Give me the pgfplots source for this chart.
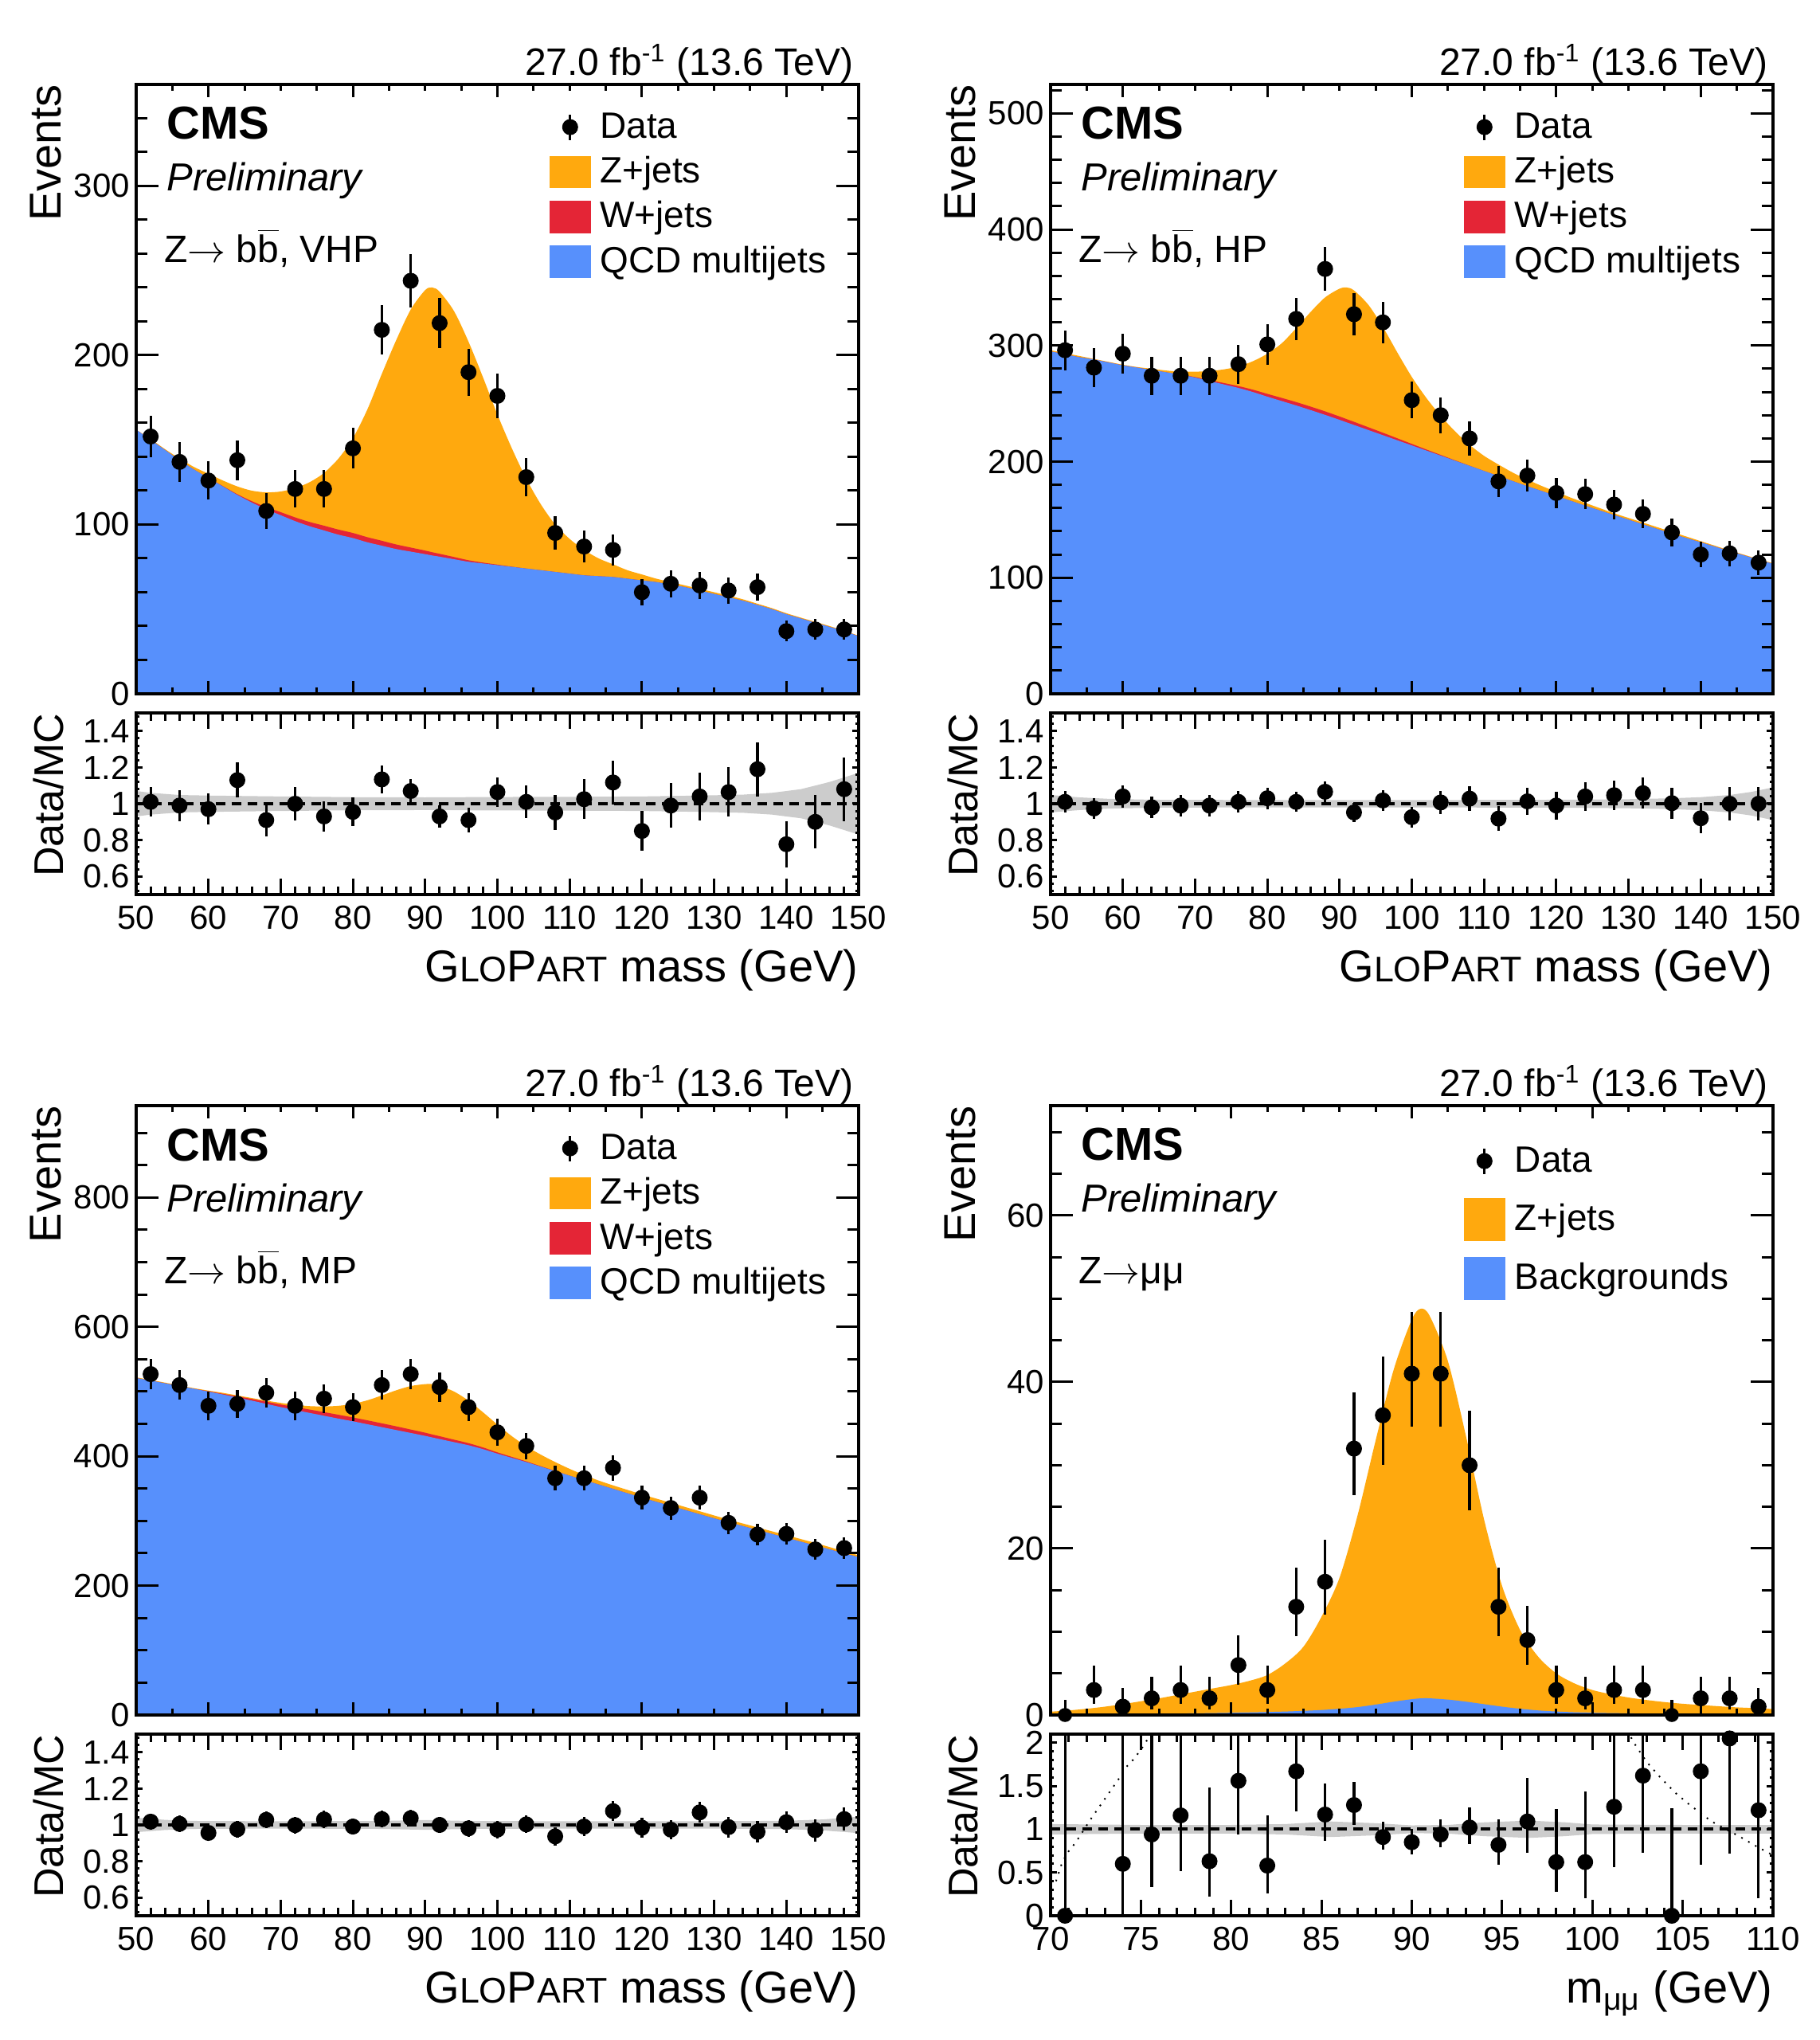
\documentclass[border=0pt]{standalone}
\usepackage{fontspec}
\setmainfont{Liberation Sans}
\usepackage{pgfplots}
\pgfplotsset{compat=1.18}
\usepackage{pgfplotstable}

\definecolor{zcol}{HTML}{FFA90E}
\definecolor{wcol}{HTML}{E42536}
\definecolor{qcol}{HTML}{5790FC}
\definecolor{bandcol}{gray}{0.8}

% ---------------- VHP ----------------
\pgfplotstableread{
x y ey r er
52 152 12.3 1.01 0.082
56 137 11.7 0.99 0.085
60 126 11.2 0.97 0.086
64 138 11.7 1.13 0.096
68 108 10.4 0.91 0.088
72 121 11.0 1.00 0.091
76 121 11.0 0.93 0.085
80 145 12.0 0.955 0.079
84 215 14.7 1.134 0.077
88 244 15.6 1.07 0.068
92 219 14.8 0.93 0.063
96 190 13.8 0.91 0.066
100 176 13.3 1.064 0.080
104 128 11.3 1.01 0.089
108 95 9.7 0.952 0.097
112 87 9.3 1.025 0.110
116 85 9.2 1.117 0.121
120 60 7.7 0.85 0.109
124 65 8.1 0.99 0.123
128 64 8.0 1.04 0.130
132 61 7.8 1.064 0.136
136 63 7.9 1.19 0.149
140 37 6.1 0.777 0.128
144 38 6.2 0.90 0.147
148 38 6.2 1.08 0.176
}\vhpdata
\pgfplotstableread{
x qcd qw tot
50 156 156 156
52 150 150 150.5
54 144 144 144.5
56 138 138 139
58 132.5 132.5 134
60 127.5 127.5 130
62 122.5 122.7 126
64 117.5 117.9 122.5
66 113 113.8 120
68 109 110.3 119
70 105.5 107.3 119.5
72 102 104.2 121.5
74 99 101.5 125
76 96.5 99.3 130.5
78 94 97 139
80 92 95 151
82 89.5 92.5 168
84 87.5 90.4 189
86 85.5 88.2 209
88 84 86.4 227
90 82.5 84.6 238.5
91 81.7 83.6 240
92 81 82.7 237.5
94 79.5 80.8 226
96 78 78.9 208
98 77 77.5 187
100 76 76.3 165
102 75 75.1 145
104 74 74 127
106 73 73 112
108 72 72 100
110 71 71 91.5
112 70 70 85
114 69.5 69.5 80
116 69 69 76.5
118 68 68 73
120 67 67 70.5
122 66 66 68
124 64.5 64.5 66
126 63 63 64
128 61 61 62
130 59 59 60
132 57 57 58
134 55 55 55.8
136 52.5 52.5 53.2
138 50 50 50.6
140 47 47 47.6
142 44.5 44.5 45
144 42 42 42.5
146 39.5 39.5 40
148 37 37 37.3
150 34 34 34.3
}\vhpcurve
\pgfplotstableread{
x y
50 1.07
52 1.06
56 1.048
60 1.045
70 1.04
80 1.036
90 1.035
100 1.037
110 1.038
120 1.04
128 1.045
134 1.05
138 1.06
142 1.08
146 1.12
150 1.17
150 0.83
146 0.88
142 0.92
138 0.94
134 0.95
128 0.955
120 0.96
110 0.962
100 0.963
90 0.965
80 0.964
70 0.96
60 0.955
56 0.952
52 0.94
50 0.93
}\vhpband

% ---------------- HP ----------------
\pgfplotstableread{
x y ey r er
52 296 17.2 1.01 0.059
56 281 16.8 0.974 0.058
60 293 17.1 1.04 0.061
64 274 16.6 0.98 0.059
68 274 16.6 0.99 0.060
72 274 16.6 0.99 0.060
76 284 16.9 1.01 0.060
80 301 17.3 1.03 0.059
84 323 18.0 1.01 0.056
88 366 19.1 1.066 0.056
92 327 18.1 0.952 0.053
96 320 17.9 1.018 0.057
100 253 15.9 0.926 0.058
104 240 15.5 1.007 0.065
108 220 14.8 1.028 0.069
112 183 13.5 0.918 0.068
116 188 13.7 1.013 0.074
120 173 13.2 0.99 0.076
124 172 13.1 1.04 0.079
128 163 12.8 1.047 0.082
132 155 12.4 1.058 0.085
136 139 11.8 1.003 0.085
140 120 11.0 0.92 0.084
144 121 11.0 1.0 0.091
148 113 10.6 1.0 0.094
}\hpdata
\pgfplotstableread{
x qcd qw tot
50 295 295 296
52 292.5 292.5 293.5
54 290 290 291
56 288 288 288.5
58 285.5 285.5 286
60 283 283 283.5
62 281 281 281.5
64 279 279 280
66 277 277 278.5
68 275 275 277.5
70 272.5 272.9 277.5
72 269.5 270.3 278
74 266.5 267.7 279.5
76 263.5 265.1 282
78 260 262 286.5
80 256 258.4 293
82 252.2 254.9 302
84 248.4 251.3 315
86 244.4 247.4 329
88 240.3 243.3 341.5
90 236 238.9 349
91 233.8 236.6 350
92 231.6 234.3 347.5
94 227.2 229.6 335
96 222.8 224.9 316
98 218.4 220.1 294
100 214 215.3 273
102 209.6 210.5 255
104 205.2 205.8 239.5
106 200.8 201.1 226
108 196.4 196.5 214.5
110 192 192 205
112 187.6 187.6 197.5
114 183.2 183.2 190.5
116 178.8 178.8 184.5
118 174.7 174.7 179
120 170.5 170.5 174
122 166.3 166.3 169
124 162.1 162.1 164.5
126 158 158 160
128 154 154 155.5
130 150 150 151.5
132 146 146 147.5
134 142 142 143.5
136 138 138 139.5
138 134.2 134.2 135.5
140 130.5 130.5 131.5
142 126.7 126.7 127.5
144 122.9 122.9 123.5
146 119.2 119.2 119.8
148 115.5 115.5 116
150 112 112 112.5
}\hpcurve
\pgfplotstableread{
x y
50 1.048
54 1.035
58 1.027
64 1.022
80 1.02
100 1.02
120 1.022
130 1.025
136 1.03
140 1.036
144 1.048
147 1.065
150 1.09
150 0.91
147 0.935
144 0.952
140 0.964
136 0.97
130 0.975
120 0.978
100 0.98
80 0.98
64 0.978
58 0.973
54 0.965
50 0.952
}\hpband

% ---------------- MP ----------------
\pgfplotstableread{
x y ey r er
52 527 23.0 1.018 0.044
56 510 22.6 1.006 0.045
60 478 21.9 0.956 0.044
64 481 21.9 0.976 0.044
68 498 22.3 1.028 0.046
72 478 21.9 0.999 0.046
76 489 22.1 1.03 0.047
80 476 21.8 0.991 0.045
84 510 22.6 1.032 0.046
88 527 23.0 1.037 0.045
92 507 22.5 1.0 0.044
96 476 21.8 0.981 0.045
100 437 20.9 0.974 0.047
104 416 20.4 1.003 0.049
108 366 19.1 0.937 0.049
112 366 19.1 0.991 0.052
116 382 19.5 1.076 0.055
120 336 18.3 0.985 0.054
124 320 17.9 0.974 0.054
128 336 18.3 1.069 0.058
132 297 17.2 0.988 0.057
136 279 16.7 0.962 0.058
140 280 16.7 1.015 0.061
144 256 16.0 0.971 0.061
148 258 16.1 1.032 0.064
}\mpdata
\pgfplotstableread{
x qcd qw tot
50 521 521 522
52 517 517 518
54 512.8 512.8 513.8
56 508.6 508.6 509.5
58 504.3 504.3 505.2
60 500 500.5 501.5
62 495.5 496.5 498
64 490.8 492.6 494
66 486 488.6 490
68 481 484.4 486
70 476 480 482.5
72 471.5 476.1 479.5
74 467 472.2 477.5
76 462.6 468.2 477
78 458.2 464.1 478
80 454 460 481
82 449.5 455.5 486.5
84 445 450.9 494
86 440.5 446.2 502
88 436 441.3 508.5
90 431.5 436.4 511.5
91 429 433.6 511.5
92 426.6 431 509
94 421.8 425.6 500
96 417 420.2 486
98 411 413.6 468
100 404 406 449
102 397.5 399 431
104 391 392 415.5
106 384 384.6 402.5
108 377 377.3 391
110 370 370 380.5
112 363.2 363.2 371
114 356.4 356.4 362.5
116 349.6 349.6 355
118 342.8 342.8 348
120 336 336 341
122 329.6 329.6 334.5
124 323.2 323.2 328
126 316.8 316.8 321.5
128 310.4 310.4 315
130 304 304 308.5
132 298 298 302
134 292 292 296
136 286 286 290
138 280 280 284
140 274 274 278
142 268 268 272
144 262 262 266
146 256 256 259.5
148 250 250 253
150 244 244 247
}\mpcurve
\pgfplotstableread{
x y
50 1.04
54 1.028
58 1.022
70 1.02
84 1.022
90 1.027
96 1.022
110 1.02
130 1.02
140 1.023
145 1.03
150 1.045
150 0.955
145 0.97
140 0.977
130 0.98
110 0.98
96 0.978
90 0.973
84 0.978
70 0.98
58 0.978
54 0.972
50 0.96
}\mpband

% ---------------- Z -> mumu ----------------
\pgfplotstableread{
x y em ep
72.4 3 1.633 2.918
74.0 1 0.827 2.300
75.6 2 1.292 2.638
77.2 3 1.633 2.918
78.8 2 1.292 2.638
80.4 6 2.380 3.584
82.0 3 1.633 2.918
83.6 13 3.554 4.690
85.2 16 3.954 5.079
86.8 32 5.624 6.712
88.4 36 5.969 7.052
90.0 41 6.374 7.451
91.6 41 6.374 7.451
93.2 30 5.444 6.534
94.8 13 3.554 4.690
96.4 9 2.945 4.062
98.0 3 1.633 2.918
99.6 2 1.292 2.638
101.2 3 1.633 2.918
102.8 3 1.633 2.918
106.0 2 1.292 2.638
107.6 2 1.292 2.638
109.2 1 0.827 2.300
}\mmdata
\pgfplotstableread{
x y ep
70.8 0 1.841
104.4 0 1.841
}\mmzero
\pgfplotstableread{
x r rem rep
70.8 0 0 3
74.0 0.6 0.6 1.6
75.6 0.94 0.61 1.3
77.2 1.16 0.64 1.2
78.8 0.63 0.41 0.85
80.4 1.56 0.62 0.9
82.0 0.58 0.32 0.58
83.6 1.67 0.46 0.6
85.2 1.17 0.30 0.36
86.8 1.28 0.23 0.27
88.4 0.91 0.15 0.18
90.0 0.85 0.14 0.15
91.6 0.94 0.15 0.17
93.2 1.02 0.19 0.23
94.8 0.82 0.23 0.29
96.4 1.09 0.36 0.5
98.0 0.62 0.345 0.61
99.6 0.62 0.42 0.82
101.2 1.26 0.7 1.0
102.8 1.62 0.89 1.0
104.4 0 0 1.24
106.0 1.67 1.08 1.0
107.6 2.05 1.33 1.0
109.2 1.22 1.02 1.0
}\mmratio
\pgfplotstableread{
x bkg tot
70 0.08 0.4
71 0.09 0.55
72 0.1 0.75
73 0.11 1.0
74 0.12 1.3
75 0.14 1.65
76 0.16 2.0
77 0.18 2.4
78 0.2 2.8
79 0.23 3.2
80 0.27 3.6
81 0.31 4.1
82 0.36 4.8
83 0.42 6.2
84 0.5 8.2
85 0.6 11.8
86 0.75 16.5
87 0.95 24
88 1.25 33
89 1.6 41.5
90 1.9 47.5
90.5 2.0 48.8
91 2.0 47.9
92 1.85 42.5
93 1.6 33.5
94 1.3 23.5
95 1.0 15.5
96 0.75 10.2
97 0.55 7.0
98 0.42 5.0
99 0.33 3.8
100 0.27 3.0
101 0.23 2.5
102 0.2 2.1
103 0.17 1.8
104 0.15 1.55
105 0.13 1.35
106 0.12 1.2
107 0.11 1.05
108 0.1 0.92
109 0.09 0.82
110 0.08 0.72
}\mmcurve
\pgfplotstableread{
x y
70 1.06
75 1.05
80 1.05
83 1.06
85.5 1.09
88 1.07
90 1.045
92 1.05
94 1.08
96.5 1.1
98.5 1.08
100 1.055
105 1.05
110 1.05
110 0.95
105 0.95
100 0.945
98.5 0.92
96.5 0.9
94 0.92
92 0.95
90 0.955
88 0.93
85.5 0.91
83 0.94
80 0.95
75 0.95
70 0.94
}\mmband
\pgfplotstableread{
x y
70.3 0.4
70.6 0.59
70.9 0.72
71.4 0.85
72.2 1.11
72.6 1.23
73.0 1.35
73.4 1.47
73.8 1.59
74.1 1.70
74.6 1.81
75.0 1.92
75.4 2.05
75.7 2.15
}\mmdotl
\pgfplotstableread{
x y
102.0 2.15
102.2 2.03
103.0 1.78
103.8 1.59
104.6 1.42
105.4 1.28
106.6 1.09
108.2 0.91
109.1 0.80
110.0 0.70
}\mmdotr

\tikzset{
  lumi/.style={anchor=base east, inner sep=0pt, font=\fontsize{12}{14}\selectfont},
  cmslab/.style={anchor=base west, inner sep=0pt, font=\fontsize{14.5}{16}\selectfont\bfseries},
  prelim/.style={anchor=base west, inner sep=0pt, font=\fontsize{12.25}{14}\selectfont\itshape},
  chanlab/.style={anchor=base west, inner sep=0pt, font=\fontsize{12}{14}\selectfont},
}

\pgfplotsset{
  cmsbase/.style={
    scale only axis, width=226.75pt, anchor=south west,
    axis on top, tick align=inside, tick pos=both,
    axis line style={line width=1pt},
    every tick/.style={black, line width=0.75pt},
    tick label style={font=\fontsize{10.5}{12}\selectfont},
    /pgf/number format/assume math mode=true,
    yticklabel style={xshift=1.5pt},
    scaled ticks=false,
    label style={font=\fontsize{14}{16}\selectfont, inner sep=0pt},
    ylabel style={at={(axis description cs:-0.1025,1)}, anchor=south east},
  },
  mainax/.style={
    cmsbase, height=191.25pt, clip=false, ymin=0,
    xticklabels={},
    major tick length=7pt, minor tick length=3.5pt,
    every major x tick/.append style={/pgfplots/major tick length=4pt},
    every minor x tick/.append style={/pgfplots/minor tick length=2pt},
    ylabel={Events},
  },
  ratioax/.style={
    cmsbase, height=57pt,
    major tick length=2pt, minor tick length=1pt,
    every major x tick/.append style={/pgfplots/major tick length=5pt},
    every minor x tick/.append style={/pgfplots/minor tick length=2.5pt},
    ylabel={Data/MC},
    ylabel style={font=\fontsize{13}{15}\selectfont, at={(axis description cs:-0.099,1)}},
    xlabel style={at={(axis description cs:1,-0.30)}, anchor=north east},
  },
  gloparttop/.style={xmin=50, xmax=150, xtick={60,80,...,140}, minor xtick={50,55,...,150}},
  glopartratio/.style={ratioax, xmin=50, xmax=150, ymin=0.5, ymax=1.5,
    xtick={50,60,...,150}, minor xtick={50,52,...,150},
    ytick={0.6,0.8,1,1.2,1.4}, minor ytick={0.52,0.56,...,1.49},
    xlabel={G{\fontsize{11.2}{13}\selectfont LO}P{\fontsize{11.2}{13}\selectfont ART} mass (GeV)}},
  leg4/.style={legend cell align=left,
    legend style={at={(axis description cs:0.572,0.966)}, anchor=north west,
      draw=none, fill=none, inner sep=0pt, outer sep=0pt, row sep=0.3pt, column sep=0.9pt,
      font=\fontsize{11.5}{13}\selectfont,
      cells={anchor=west, inner sep=0pt, text height=8.3pt, text depth=2.2pt}}},
  leg3/.style={legend cell align=left,
    legend style={at={(axis description cs:0.572,0.945)}, anchor=north west,
      draw=none, fill=none, inner sep=0pt, outer sep=0pt, row sep=4.6pt, column sep=1pt,
      font=\fontsize{11.5}{13}\selectfont,
      cells={anchor=west, inner sep=0pt, text height=8.3pt, text depth=2.2pt}}},
  dataimg/.style={legend image code/.code={
      \path[draw=none, fill=none] (0pt,-5.1pt) rectangle (13pt,5.1pt);
      \draw[black, line width=0.8pt] (6.5pt,-4pt) -- (6.5pt,4pt);
      \fill[black] (6.5pt,0pt) circle (2.3pt);}},
  boximg/.style={legend image code/.code={\fill[#1, draw=none] (0pt,-5.1pt) rectangle (13pt,5.1pt);}},
  bigboximg/.style={legend image code/.code={\fill[#1, draw=none] (0pt,-6.75pt) rectangle (13pt,6.75pt);}},
  dataplot/.style={black, only marks, mark=*, mark size=2.3pt,
    error bars/.cd, y dir=both, y explicit, error mark=none,
    error bar style={line width=0.8pt, black}},
}

\newcommand{\decor}[1]{%
  \node[lumi] at (rel axis cs:0.9934,1.015) {27.0 fb\textsuperscript{-1} (13.6 TeV)};
  \node[cmslab] at (rel axis cs:0.0414,0.9098) {CMS};
  \node[prelim] at (rel axis cs:0.0414,0.8255) {Preliminary};
  \node[chanlab] at (rel axis cs:0.038,0.7075) {#1};
}
\newcommand{\zbb}[1]{Z$\rightarrow$ b$\overline{\mbox{b}}$, #1}

\begin{document}
\begin{tikzpicture}
\useasboundingbox (0,0) rectangle (571pt,640.25pt);

% ============ VHP main ============
\begin{axis}[mainax, gloparttop, at={(42.75pt,422.5pt)}, ymax=360,
  ytick={0,100,200,300}, minor ytick={20,40,...,360}, leg4]
\addlegendimage{dataimg}\addlegendentry{Data}
\addlegendimage{boximg=zcol}\addlegendentry{Z+jets}
\addlegendimage{boximg=wcol}\addlegendentry{W+jets}
\addlegendimage{boximg=qcol}\addlegendentry{QCD multijets}
\addplot[fill=zcol, draw=none, smooth, forget plot] table[x=x,y=tot] {\vhpcurve} \closedcycle;
\addplot[fill=wcol, draw=none, smooth, forget plot] table[x=x,y=qw] {\vhpcurve} \closedcycle;
\addplot[fill=qcol, draw=none, smooth, forget plot] table[x=x,y=qcd] {\vhpcurve} \closedcycle;
\addplot[forget plot, dataplot] table[x=x,y=y,y error=ey] {\vhpdata};
\decor{\zbb{VHP}}
\end{axis}
% ============ VHP ratio ============
\begin{axis}[glopartratio, at={(42.75pt,359.5pt)}]
\addplot[fill=bandcol, draw=none] table[x=x,y=y] {\vhpband};
\addplot[black, line width=1pt, dash pattern=on 3pt off 2pt] coordinates {(50,1) (150,1)};
\addplot[dataplot] table[x=x,y=r,y error=er] {\vhpdata};
\end{axis}

% ============ HP main ============
\begin{axis}[mainax, gloparttop, at={(329.75pt,422.5pt)}, ymax=525,
  ytick={0,100,...,500}, minor ytick={20,40,...,520}, leg4]
\addlegendimage{dataimg}\addlegendentry{Data}
\addlegendimage{boximg=zcol}\addlegendentry{Z+jets}
\addlegendimage{boximg=wcol}\addlegendentry{W+jets}
\addlegendimage{boximg=qcol}\addlegendentry{QCD multijets}
\addplot[fill=zcol, draw=none, smooth, forget plot] table[x=x,y=tot] {\hpcurve} \closedcycle;
\addplot[fill=wcol, draw=none, smooth, forget plot] table[x=x,y=qw] {\hpcurve} \closedcycle;
\addplot[fill=qcol, draw=none, smooth, forget plot] table[x=x,y=qcd] {\hpcurve} \closedcycle;
\addplot[forget plot, dataplot] table[x=x,y=y,y error=ey] {\hpdata};
\decor{\zbb{HP}}
\end{axis}
% ============ HP ratio ============
\begin{axis}[glopartratio, at={(329.75pt,359.5pt)}]
\addplot[fill=bandcol, draw=none] table[x=x,y=y] {\hpband};
\addplot[black, line width=1pt, dash pattern=on 3pt off 2pt] coordinates {(50,1) (150,1)};
\addplot[dataplot] table[x=x,y=r,y error=er] {\hpdata};
\end{axis}

% ============ MP main ============
\begin{axis}[mainax, gloparttop, at={(42.75pt,102pt)}, ymax=942,
  ytick={0,200,...,800}, minor ytick={50,100,...,900}, leg4]
\addlegendimage{dataimg}\addlegendentry{Data}
\addlegendimage{boximg=zcol}\addlegendentry{Z+jets}
\addlegendimage{boximg=wcol}\addlegendentry{W+jets}
\addlegendimage{boximg=qcol}\addlegendentry{QCD multijets}
\addplot[fill=zcol, draw=none, smooth, forget plot] table[x=x,y=tot] {\mpcurve} \closedcycle;
\addplot[fill=wcol, draw=none, smooth, forget plot] table[x=x,y=qw] {\mpcurve} \closedcycle;
\addplot[fill=qcol, draw=none, smooth, forget plot] table[x=x,y=qcd] {\mpcurve} \closedcycle;
\addplot[forget plot, dataplot] table[x=x,y=y,y error=ey] {\mpdata};
\decor{\zbb{MP}}
\end{axis}
% ============ MP ratio ============
\begin{axis}[glopartratio, at={(42.75pt,39pt)}]
\addplot[fill=bandcol, draw=none] table[x=x,y=y] {\mpband};
\addplot[black, line width=1pt, dash pattern=on 3pt off 2pt] coordinates {(50,1) (150,1)};
\addplot[dataplot] table[x=x,y=r,y error=er] {\mpdata};
\end{axis}

% ============ Z->mumu main ============
\begin{axis}[mainax, at={(329.75pt,102pt)}, xmin=70, xmax=110, ymax=73.2,
  xtick={80,90,100}, minor xtick={70,72,...,110},
  ytick={0,20,40,60}, minor ytick={5,10,...,70}, leg3]
\addlegendimage{dataimg}\addlegendentry{Data}
\addlegendimage{bigboximg=zcol}\addlegendentry{Z+jets}
\addlegendimage{bigboximg=qcol}\addlegendentry{Backgrounds}
\addplot[fill=zcol, draw=none, smooth, forget plot] table[x=x,y=tot] {\mmcurve} \closedcycle;
\addplot[fill=qcol, draw=none, smooth, forget plot] table[x=x,y=bkg] {\mmcurve} \closedcycle;
\addplot[forget plot, dataplot] table[x=x,y=y,y error plus=ep,y error minus=em] {\mmdata};
\addplot[forget plot, black, only marks, mark=none, error bars/.cd, y dir=plus, y explicit, error mark=none,
  error bar style={line width=0.8pt, black}] table[x=x,y=y,y error plus=ep] {\mmzero};
\decor{Z$\rightarrow$μμ}
\end{axis}
% ============ Z->mumu ratio ============
\begin{axis}[ratioax, at={(329.75pt,39pt)}, xmin=70, xmax=110, ymin=0, ymax=2.1,
  xtick={70,75,...,110}, minor xtick={70,71,...,110},
  ytick={0,0.5,1,1.5,2}, minor ytick={0.1,0.2,...,2.05},
  xlabel={m\textsubscript{μμ} (GeV)}]
\addplot[fill=bandcol, draw=none] table[x=x,y=y] {\mmband};
\addplot[black, line width=0.5pt, dotted] table[x=x,y=y] {\mmdotl};
\addplot[black, line width=0.5pt, dotted] table[x=x,y=y] {\mmdotr};
\addplot[black, line width=1pt, dash pattern=on 3pt off 2pt] coordinates {(70,1) (110,1)};
\addplot[dataplot] table[x=x,y=r,y error plus=rep,y error minus=rem] {\mmratio};
\end{axis}
\end{tikzpicture}
\end{document}
